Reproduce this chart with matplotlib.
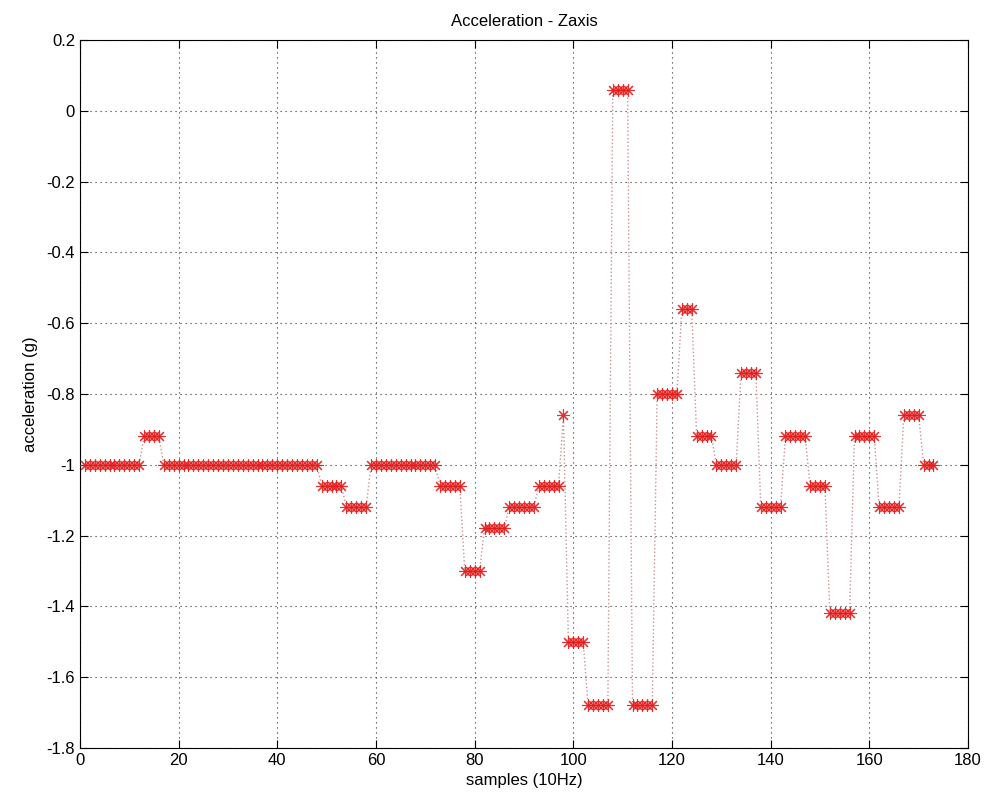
import matplotlib
matplotlib.use("Agg")
import matplotlib.pyplot as plt
from matplotlib.ticker import FormatStrFormatter
import numpy as np

# readings come in short runs of equal values (sensor updates slower than 10Hz)
levels = [-1.00, -0.92, -1.00, -1.06, -1.12, -1.00, -1.06, -1.30, -1.18, -1.12,
          -1.06, -0.86, -1.50, -1.68, 0.06, -1.68, -0.80, -0.56, -0.92, -1.00,
          -0.74, -1.12, -0.92, -1.06, -1.42, -0.92, -1.12, -0.86, -1.00]
run_lengths = [12, 4, 32, 5, 5, 14, 5, 4, 5, 6,
               5, 1, 4, 5, 4, 5, 5, 3, 4, 5,
               4, 5, 5, 4, 5, 5, 5, 4, 3]

accel_z = np.repeat(levels, run_lengths)
samples = np.arange(1, len(accel_z) + 1)

x_ticks = list(range(0, 181, 20))
y_ticks = [round(-1.8 + 0.2 * i, 1) for i in range(11)]

plt.rcParams['font.family'] = ['Liberation Sans', 'DejaVu Sans']
plt.rcParams['axes.unicode_minus'] = False

fig = plt.figure(figsize=(9.92, 8.06), dpi=100)
ax = fig.add_axes([0.0806, 0.072, 0.8952, 0.8784])

# dotted connecting line, then asterisk markers on top
ax.plot(samples, accel_z, linestyle=':', color='#c89494', linewidth=1.0, zorder=2)
ax.plot(samples, accel_z, linestyle='none', marker=(8, 2, 0), markersize=9,
        markeredgecolor='#e41a1a', markeredgewidth=0.8, alpha=0.9, zorder=3)

ax.set_xlim(0, 180)
ax.set_ylim(-1.8, 0.2)
ax.set_xticks(x_ticks)
ax.set_yticks(y_ticks)
ax.yaxis.set_major_formatter(FormatStrFormatter('%g'))

ax.grid(True, linestyle=(0, (1, 3.5)), color='#303030', linewidth=0.8)
ax.set_axisbelow(True)
ax.tick_params(direction='in', top=True, right=True, length=6, width=0.8,
               labelsize=12)
for sp in ax.spines.values():
    sp.set_linewidth(0.8)

ax.set_title('Acceleration - Zaxis', fontsize=12, pad=10)
ax.set_xlabel('samples (10Hz)', fontsize=12, labelpad=4)
ax.set_ylabel('acceleration (g)', fontsize=12, labelpad=6)

fig.savefig('out.png', dpi=100)
